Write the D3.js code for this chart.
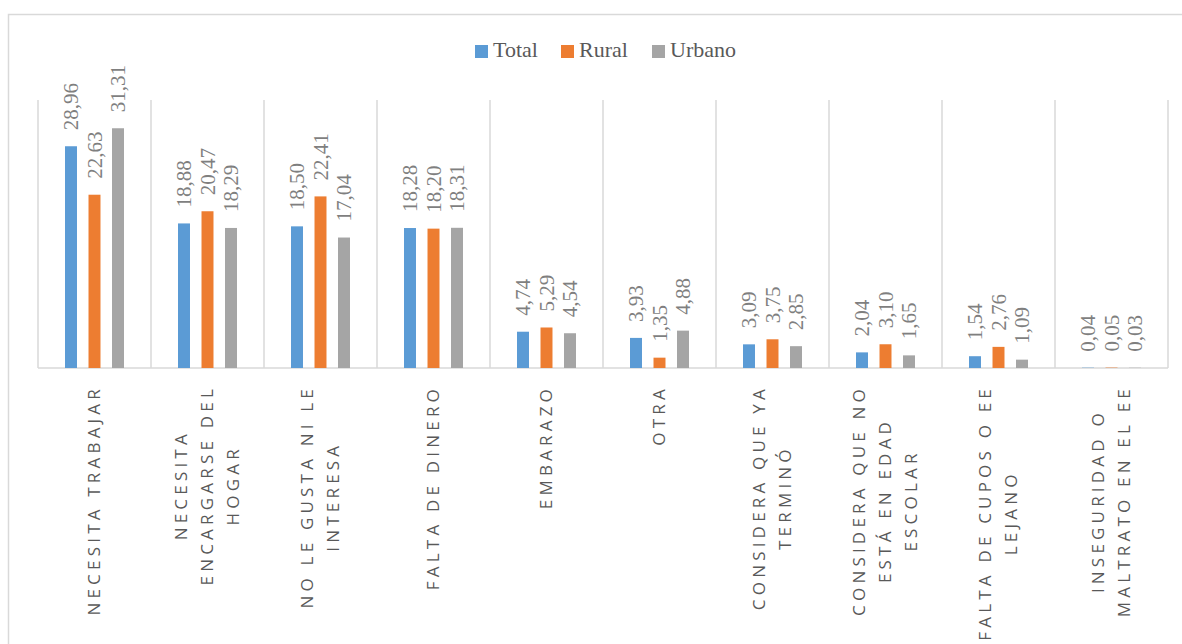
<!DOCTYPE html>
<html><head><meta charset="utf-8">
<script src="https://cdn.jsdelivr.net/npm/d3@7"></script>
<style>body{margin:0;background:#fff;}svg{display:block;}</style>
</head><body>
<svg id="c" width="1182" height="644"></svg>
<script>
const categories = [
  ["NECESITA TRABAJAR"],
  ["NECESITA","ENCARGARSE DEL","HOGAR"],
  ["NO LE GUSTA NI LE","INTERESA"],
  ["FALTA DE DINERO"],
  ["EMBARAZO"],
  ["OTRA"],
  ["CONSIDERA QUE YA","TERMINÓ"],
  ["CONSIDERA QUE NO","ESTÁ EN EDAD","ESCOLAR"],
  ["FALTA DE CUPOS O EE","LEJANO"],
  ["INSEGURIDAD O","MALTRATO EN EL EE"]
];
const seriesNames = ["Total","Rural","Urbano"];
const total  = [28.96,18.88,18.50,18.28,4.74,3.93,3.09,2.04,1.54,0.04];
const rural  = [22.63,20.47,22.41,18.20,5.29,1.35,3.75,3.10,2.76,0.05];
const urbano = [31.31,18.29,17.04,18.31,4.54,4.88,2.85,1.65,1.09,0.03];
const colors = ["#5b9bd5","#ed7d31","#a5a5a5"];
const yMax = 35;

const svg = d3.select("#c");
svg.append("rect").attr("x",8.5).attr("y",14.5).attr("width",1180).attr("height",640)
  .attr("fill","none").attr("stroke","#d9d9d9").attr("stroke-width",1.5);

const pLeft = 38, pRight = 1168, pTop = 100, pBase = 368;
const x = d3.scaleBand().domain(d3.range(categories.length)).range([pLeft,pRight]).padding(0);
const y = d3.scaleLinear().domain([0,yMax]).range([pBase,pTop]);
const inner = d3.scaleBand().domain(d3.range(3)).range([-29.5,29.5]).paddingInner(0.49).paddingOuter(0);

const seps = d3.range(categories.length+1).map(i => i < categories.length ? x(i) : pRight);
svg.selectAll("line.sep").data(seps).enter().append("line")
  .attr("x1",d=>d).attr("x2",d=>d).attr("y1",pTop).attr("y2",pBase)
  .attr("stroke","#d9d9d9").attr("stroke-width",1.5);
svg.append("line").attr("x1",pLeft).attr("x2",pRight).attr("y1",pBase).attr("y2",pBase)
  .attr("stroke","#d9d9d9").attr("stroke-width",1.5);

const data = [total, rural, urbano];
data.forEach((vals, s) => {
  const g = svg.append("g");
  g.selectAll("rect").data(vals).enter().append("rect")
    .attr("x",(d,i)=> x(i)+x.bandwidth()/2+inner(s))
    .attr("width",inner.bandwidth())
    .attr("y",d=>y(d)).attr("height",d=>pBase-y(d))
    .attr("fill",colors[s]);
  g.selectAll("text").data(vals).enter().append("text")
    .attr("transform",(d,i)=>{
      const cx = x(i)+x.bandwidth()/2+inner(s)+inner.bandwidth()/2;
      return `translate(${cx},${y(d)-16}) rotate(-90)`;
    })
    .attr("dy","0.35em")
    .attr("font-family","Liberation Serif, Times New Roman, serif")
    .attr("font-size",21).attr("fill","#7f7f7f")
    .text(d=>d.toFixed(2).replace(".",","));
});

categories.forEach((lines,i) => {
  const cx = x(i)+x.bandwidth()/2;
  const lh = 26;
  const g = svg.append("g");
  const texts = lines.map((t,k)=> g.append("text")
    .attr("font-family","Open Sans, sans-serif").attr("font-size",17)
    .attr("letter-spacing","4.2px").attr("fill","#595959")
    .attr("text-anchor","middle").text(t));
  const W = d3.max(texts, t => t.node().getComputedTextLength());
  const n = lines.length;
  texts.forEach((t,k)=>{
    const lx = cx + (k-(n-1)/2)*lh;
    t.attr("transform",`translate(${lx},${385+W/2}) rotate(-90)`).attr("dy","0.35em");
  });
});

const legX = [475, 561, 652];
const lg = svg.append("g");
seriesNames.forEach((n,s)=>{
  lg.append("rect").attr("x",legX[s]).attr("y",45).attr("width",13).attr("height",13).attr("fill",colors[s]);
  lg.append("text").attr("x",legX[s]+18).attr("y",57)
    .attr("font-family","Liberation Serif, Times New Roman, serif").attr("font-size",22)
    .attr("fill","#595959").text(n);
});
</script>
</body></html>
